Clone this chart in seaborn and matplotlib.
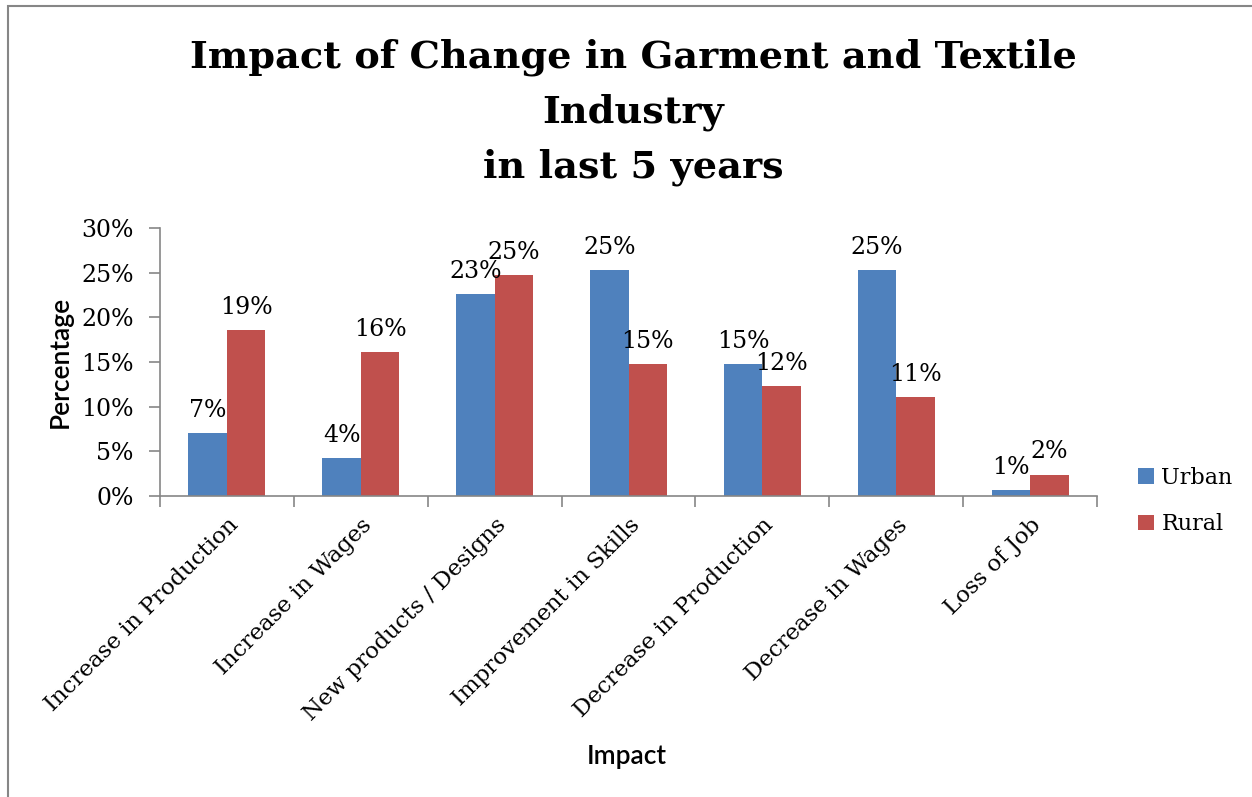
import matplotlib
matplotlib.use("Agg")
import matplotlib.pyplot as plt
from matplotlib.ticker import PercentFormatter, FixedLocator
from matplotlib.patches import Rectangle
import seaborn as sns
import pandas as pd

# Survey results: share of respondents reporting each impact
impacts = [
    "Increase in Production",
    "Increase in Wages",
    "New products / Designs",
    "Improvement in Skills",
    "Decrease in Production",
    "Decrease in Wages",
    "Loss of Job",
]
urban = [0.070, 0.042, 0.226, 0.253, 0.148, 0.253, 0.007]
rural = [0.186, 0.161, 0.247, 0.148, 0.123, 0.111, 0.024]
areas = ["Urban", "Rural"]
colors = ["#4F81BD", "#C0504D"]

df = pd.DataFrame({
    "Impact": impacts * 2,
    "Share": urban + rural,
    "Area": ["Urban"] * len(impacts) + ["Rural"] * len(impacts),
})

sns.set_style("white", rc={"text.color": "black", "xtick.color": "black",
                           "ytick.color": "black", "axes.labelcolor": "black"})
serif = ["DejaVu Serif"]
sans = ["Lato", "DejaVu Sans"]

fig = plt.figure(figsize=(12.52, 7.97), dpi=100)
ax = fig.add_axes([160 / 1252, 1 - 496 / 797, (1097 - 160) / 1252, (496 - 228) / 797])

sns.barplot(data=df, x="Impact", y="Share", hue="Area", hue_order=areas,
            palette=colors, saturation=1, width=0.575, gap=0,
            linewidth=0, ax=ax, legend=False)

for cont in ax.containers:
    vals = [b.get_height() for b in cont]
    ax.bar_label(cont, labels=[f"{v * 100:.0f}%" for v in vals], padding=8,
                 fontsize=17, family=serif, color="black")

axis_gray = "#868686"
ax.set_ylim(0, 0.30)
ax.set_xlim(-0.5, len(impacts) - 0.5)
ax.yaxis.set_major_formatter(PercentFormatter(1.0, decimals=0))
ax.set_yticks([0, 0.05, 0.10, 0.15, 0.20, 0.25, 0.30])
for s in ["top", "right"]:
    ax.spines[s].set_visible(False)
for s in ["left", "bottom"]:
    ax.spines[s].set_color(axis_gray)
    ax.spines[s].set_linewidth(1.2)

ax.tick_params(axis="y", direction="out", length=8, width=1.2, color=axis_gray,
               left=True, pad=11, labelsize=17)
ax.tick_params(axis="x", which="major", length=0, pad=13)
ax.xaxis.set_minor_locator(FixedLocator([i - 0.5 for i in range(len(impacts) + 1)]))
ax.tick_params(axis="x", which="minor", direction="out", length=8, width=1.2,
               color=axis_gray, bottom=True)

for lbl in ax.get_yticklabels():
    lbl.set_family(serif)
ax.set_xticks(range(len(impacts)))
ax.set_xticklabels(impacts, rotation=45, ha="right", rotation_mode="anchor",
                   family=serif, fontsize=16.5)

ax.set_ylabel("Percentage", family=sans, fontsize=19, fontweight="semibold")
ax.set_xlabel("Impact", family=sans, fontsize=19, fontweight="semibold")
ax.yaxis.set_label_coords(-0.093, 0.5)
ax.xaxis.set_label_coords(0.498, -0.925)

fig.suptitle("Impact of Change in Garment and Textile\nIndustry\nin last 5 years",
             x=633 / 1252, y=1 - 38 / 797, va="top", family=serif, color="black",
             fontweight="bold", fontsize=27.5, linespacing=1.62)

handles = [Rectangle((0, 0), 1, 1, facecolor=c, edgecolor="none") for c in colors]
fig.legend(handles, areas, loc="center left", bbox_to_anchor=(1118 / 1252, 1 - 501 / 797),
           frameon=False, handlelength=0.7, handleheight=0.7, handletextpad=0.35,
           labelspacing=1.1, prop={"family": serif, "size": 16})

# chart area border
fig.add_artist(Rectangle((8 / 1252, -0.05), 1.1, 1 - 6 / 797 + 0.05,
                         transform=fig.transFigure, fill=False,
                         edgecolor="#868686", linewidth=1.5))

fig.savefig("out.png", dpi=100)
